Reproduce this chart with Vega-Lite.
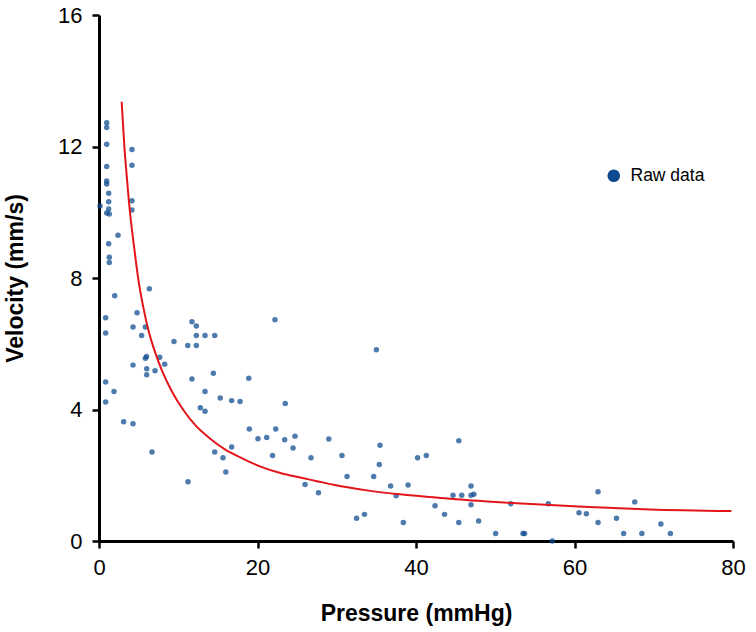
{
  "$schema": "https://vega.github.io/schema/vega-lite/v6.json",
  "width": 634,
  "height": 526,
  "autosize": {"type": "none"},
  "padding": {"left": 99, "top": 15, "right": 23, "bottom": 91},
  "background": "white",
  "config": {
    "view": {"stroke": null},
    "font": "Liberation Sans",
    "axis": {
      "domainColor": "black", "domainWidth": 3, "tickColor": "black", "tickWidth": 2.5, "tickSize": 7,
      "labelFont": "Liberation Sans", "labelFontSize": 22, "labelColor": "black", "labelFlush": false,
      "titleFont": "Liberation Sans", "titleFontSize": 23, "titleFontWeight": "bold", "titleColor": "black",
      "grid": false, "zindex": 1
    }
  },
  "datasets": {
    "raw": [
      {"p": 0.97, "v": 12.72}, {"p": 0.97, "v": 12.58}, {"p": 0.97, "v": 12.07}, {"p": 0.97, "v": 11.39},
      {"p": 0.97, "v": 10.95}, {"p": 0.97, "v": 10.86}, {"p": 1.22, "v": 10.58}, {"p": 1.22, "v": 10.32},
      {"p": 0.13, "v": 10.19}, {"p": 1.22, "v": 10.1}, {"p": 0.97, "v": 9.98}, {"p": 1.3, "v": 9.95},
      {"p": 1.22, "v": 9.04}, {"p": 1.3, "v": 8.63}, {"p": 1.3, "v": 8.47}, {"p": 0.84, "v": 6.79},
      {"p": 0.84, "v": 6.33}, {"p": 0.84, "v": 4.84}, {"p": 0.84, "v": 4.23}, {"p": 1.89, "v": 4.55},
      {"p": 4.16, "v": 11.91}, {"p": 4.16, "v": 11.43}, {"p": 4.16, "v": 10.35}, {"p": 4.16, "v": 10.07},
      {"p": 2.4, "v": 9.3}, {"p": 6.35, "v": 7.67}, {"p": 1.98, "v": 7.46}, {"p": 4.8, "v": 6.94},
      {"p": 4.29, "v": 6.51}, {"p": 5.85, "v": 6.51}, {"p": 5.38, "v": 6.25}, {"p": 9.46, "v": 6.07},
      {"p": 11.73, "v": 6.67}, {"p": 12.28, "v": 6.54}, {"p": 12.28, "v": 6.25}, {"p": 13.38, "v": 6.25},
      {"p": 14.6, "v": 6.25}, {"p": 11.2, "v": 5.95}, {"p": 12.28, "v": 5.95}, {"p": 4.29, "v": 5.35},
      {"p": 5.85, "v": 5.56}, {"p": 6.0, "v": 5.61}, {"p": 7.66, "v": 5.59}, {"p": 8.29, "v": 5.38},
      {"p": 6.02, "v": 5.24}, {"p": 6.02, "v": 5.06}, {"p": 7.07, "v": 5.18}, {"p": 11.73, "v": 4.93},
      {"p": 13.38, "v": 4.55}, {"p": 12.78, "v": 4.05}, {"p": 13.38, "v": 3.95}, {"p": 3.11, "v": 3.63},
      {"p": 4.29, "v": 3.57}, {"p": 6.69, "v": 2.71}, {"p": 22.2, "v": 6.73}, {"p": 14.43, "v": 5.1},
      {"p": 18.9, "v": 4.95}, {"p": 15.3, "v": 4.35}, {"p": 16.74, "v": 4.27}, {"p": 17.8, "v": 4.24},
      {"p": 23.5, "v": 4.18}, {"p": 18.97, "v": 3.41}, {"p": 20.06, "v": 3.11}, {"p": 21.16, "v": 3.15},
      {"p": 22.3, "v": 3.41}, {"p": 23.43, "v": 3.08}, {"p": 24.73, "v": 3.19}, {"p": 24.48, "v": 2.83},
      {"p": 16.74, "v": 2.86}, {"p": 14.6, "v": 2.71}, {"p": 15.65, "v": 2.53}, {"p": 16.0, "v": 2.1},
      {"p": 21.9, "v": 2.6}, {"p": 26.75, "v": 2.53}, {"p": 11.23, "v": 1.8}, {"p": 35.0, "v": 5.82},
      {"p": 29.0, "v": 3.1}, {"p": 35.46, "v": 2.91}, {"p": 30.66, "v": 2.6}, {"p": 35.37, "v": 2.33},
      {"p": 40.2, "v": 2.53}, {"p": 41.3, "v": 2.6}, {"p": 45.4, "v": 3.05}, {"p": 31.3, "v": 1.96},
      {"p": 34.66, "v": 1.96}, {"p": 26.0, "v": 1.72}, {"p": 27.7, "v": 1.47}, {"p": 36.8, "v": 1.67},
      {"p": 39.0, "v": 1.7}, {"p": 37.5, "v": 1.38}, {"p": 42.4, "v": 1.07}, {"p": 43.6, "v": 0.81},
      {"p": 44.67, "v": 1.39}, {"p": 32.5, "v": 0.69}, {"p": 33.5, "v": 0.81}, {"p": 38.4, "v": 0.56},
      {"p": 45.4, "v": 0.56}, {"p": 45.77, "v": 1.39}, {"p": 46.94, "v": 1.67}, {"p": 46.94, "v": 1.39},
      {"p": 47.3, "v": 1.42}, {"p": 46.94, "v": 1.1}, {"p": 47.9, "v": 0.61}, {"p": 51.95, "v": 1.13},
      {"p": 50.05, "v": 0.23}, {"p": 53.5, "v": 0.23}, {"p": 53.7, "v": 0.23}, {"p": 56.7, "v": 1.13},
      {"p": 57.2, "v": 0.0}, {"p": 60.57, "v": 0.86}, {"p": 61.5, "v": 0.83}, {"p": 62.97, "v": 1.5},
      {"p": 62.97, "v": 0.56}, {"p": 65.3, "v": 0.69}, {"p": 66.2, "v": 0.23}, {"p": 67.6, "v": 1.19},
      {"p": 68.5, "v": 0.23}, {"p": 70.9, "v": 0.52}, {"p": 72.1, "v": 0.23}
    ],
    "fit": [
      {"p": 2.86, "v": 13.36}, {"p": 3.2, "v": 12.0}, {"p": 3.5, "v": 11.1}, {"p": 3.91, "v": 10.0},
      {"p": 4.4, "v": 9.0}, {"p": 5.0, "v": 7.9}, {"p": 5.6, "v": 7.1}, {"p": 6.3, "v": 6.35},
      {"p": 7.0, "v": 5.8}, {"p": 8.0, "v": 5.15}, {"p": 9.2, "v": 4.55}, {"p": 10.6, "v": 4.0},
      {"p": 12.24, "v": 3.5}, {"p": 14.0, "v": 3.12}, {"p": 15.8, "v": 2.8}, {"p": 18.0, "v": 2.52},
      {"p": 20.3, "v": 2.27}, {"p": 23.0, "v": 2.06}, {"p": 25.4, "v": 1.93}, {"p": 27.5, "v": 1.82},
      {"p": 29.6, "v": 1.71}, {"p": 33.8, "v": 1.54}, {"p": 38.0, "v": 1.42}, {"p": 42.2, "v": 1.33},
      {"p": 45.1, "v": 1.27}, {"p": 52.7, "v": 1.15}, {"p": 61.1, "v": 1.04}, {"p": 69.5, "v": 0.96},
      {"p": 79.8, "v": 0.91}
    ]
  },
  "layer": [
    {
      "data": {"name": "raw"},
      "transform": [{"calculate": "'Raw data'", "as": "series"}],
      "mark": {"type": "point", "filled": true, "size": 30, "opacity": 0.73},
      "encoding": {
        "x": {"field": "p", "type": "quantitative", "scale": {"domain": [0, 80], "nice": false},
              "axis": {"title": "Pressure (mmHg)", "values": [0, 20, 40, 60, 80], "labelPadding": 9, "titlePadding": 24}},
        "y": {"field": "v", "type": "quantitative", "scale": {"domain": [0, 16], "nice": false},
              "axis": {"title": "Velocity  (mm/s)", "values": [0, 4, 8, 12, 16], "labelPadding": 10, "titlePadding": 30}},
        "color": {"field": "series", "type": "nominal", "scale": {"range": ["#0b4a8f"]},
                  "legend": {"title": null, "orient": "none", "legendX": 506, "legendY": 152, "padding": 0,
                             "symbolSize": 160, "symbolType": "circle", "symbolOpacity": 1, "symbolStrokeWidth": 0,
                             "labelFontSize": 17.5, "labelColor": "black",
                             "labelFont": "Liberation Sans", "labelOffset": 8}}
      }
    },
    {
      "data": {"name": "fit"},
      "mark": {"type": "line", "color": "#e3151b", "strokeWidth": 2, "interpolate": "monotone"},
      "encoding": {
        "x": {"field": "p", "type": "quantitative"},
        "y": {"field": "v", "type": "quantitative"}
      }
    }
  ]
}
